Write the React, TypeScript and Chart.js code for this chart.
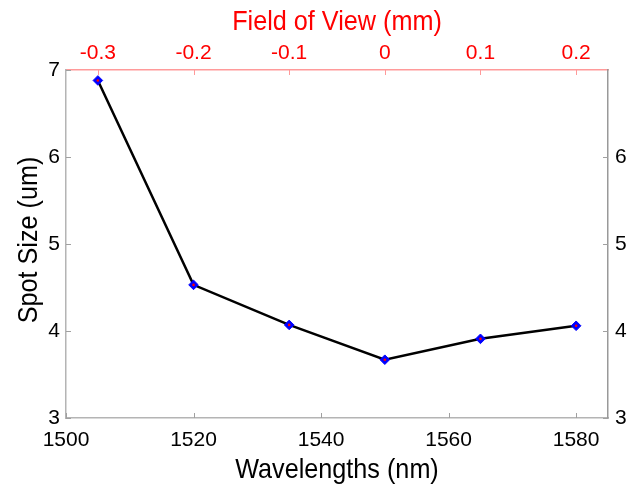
import React, { useEffect, useRef } from "react";
import { Chart, registerables } from "chart.js";

Chart.register(...registerables);

const wavelengths = [1505, 1520, 1535, 1550, 1565, 1580];
const spotSize = [6.88, 4.53, 4.07, 3.67, 3.91, 4.06];
const bottomTicks = [1500, 1520, 1540, 1560, 1580];
const topTicks = [-0.3, -0.2, -0.1, 0, 0.1, 0.2];
const leftTicks = [3, 4, 5, 6, 7];
const rightTicks = [3, 4, 5, 6];
const xMin = 1500;
const xMax = 1585;
const fovCenter = 1550;
const fovScale = 150;
const xTitle = "Wavelengths (nm)";
const x2Title = "Field of View (mm)";
const yTitle = "Spot Size (um)";

const TICK_FONT = { family: "'Liberation Sans', Arial, sans-serif", size: 21 };
const TITLE_FONT_CSS = "28px 'Liberation Sans', Arial, sans-serif";
const TITLE_SQUEEZE = 0.9;

const inwardTicks = {
  id: "inwardTicks",
  afterDatasetsDraw(chart: any) {
    const { ctx, chartArea, scales } = chart;
    const len = 5;
    ctx.save();
    ctx.lineWidth = 1;
    const drawX = (scale: any, color: string, fromTop: boolean) => {
      ctx.strokeStyle = color;
      scale.ticks.forEach((t: any) => {
        const px = Math.round(scale.getPixelForValue(t.value)) + 0.5;
        ctx.beginPath();
        if (fromTop) {
          ctx.moveTo(px, chartArea.top);
          ctx.lineTo(px, chartArea.top + len);
        } else {
          ctx.moveTo(px, chartArea.bottom);
          ctx.lineTo(px, chartArea.bottom - len);
        }
        ctx.stroke();
      });
    };
    const drawY = (scale: any, color: string, fromLeft: boolean) => {
      ctx.strokeStyle = color;
      scale.ticks.forEach((t: any) => {
        const py = Math.round(scale.getPixelForValue(t.value)) + 0.5;
        ctx.beginPath();
        if (fromLeft) {
          ctx.moveTo(chartArea.left, py);
          ctx.lineTo(chartArea.left + len, py);
        } else {
          ctx.moveTo(chartArea.right, py);
          ctx.lineTo(chartArea.right - len, py);
        }
        ctx.stroke();
      });
    };
    drawX(scales.x, "#a0a0a0", false);
    drawX(scales.x2, "#ff9a9a", true);
    drawY(scales.y, "#a0a0a0", true);
    drawY(scales.y2, "#a0a0a0", false);
    ctx.restore();
  },
};

const squeezedTitles = {
  id: "squeezedTitles",
  afterDraw(chart: any) {
    const { ctx, chartArea } = chart;
    const cx = (chartArea.left + chartArea.right) / 2;
    const cy = (chartArea.top + chartArea.bottom) / 2;
    ctx.save();
    ctx.font = TITLE_FONT_CSS;
    ctx.textAlign = "center";
    ctx.textBaseline = "alphabetic";
    ctx.save();
    ctx.translate(cx, chart.height - 11);
    ctx.scale(TITLE_SQUEEZE, 1);
    ctx.fillStyle = "#000000";
    ctx.fillText(xTitle, 0, 0);
    ctx.restore();
    ctx.save();
    ctx.translate(cx, 30);
    ctx.scale(TITLE_SQUEEZE, 1);
    ctx.fillStyle = "#ff0000";
    ctx.fillText(x2Title, 0, 0);
    ctx.restore();
    ctx.save();
    ctx.translate(37, cy - 4);
    ctx.rotate(-Math.PI / 2);
    ctx.scale(TITLE_SQUEEZE, 1);
    ctx.fillStyle = "#000000";
    ctx.fillText(yTitle, 0, 0);
    ctx.restore();
    ctx.restore();
  },
};

const setTicks = (arr: number[]) => (scale: any) => {
  scale.ticks = arr.map((v) => ({ value: v }));
};

export default function App() {
  const ref = useRef<HTMLCanvasElement | null>(null);
  useEffect(() => {
    if (!ref.current) return;
    const pts = wavelengths.map((w, i) => ({ x: w, y: spotSize[i] }));
    const chart = new Chart(ref.current, {
      type: "line",
      data: {
        datasets: [
          {
            data: pts,
            borderColor: "#000000",
            borderWidth: 2.5,
            pointStyle: "rectRot",
            pointRadius: 4.8,
            pointBackgroundColor: "#0000ff",
            pointBorderColor: "#0000ff",
            pointBorderWidth: 1,
            xAxisID: "x",
            yAxisID: "y",
            order: 2,
          },
          {
            data: pts,
            showLine: false,
            pointStyle: "circle",
            pointRadius: 1.3,
            pointBackgroundColor: "#ff0000",
            pointBorderColor: "#ff0000",
            pointBorderWidth: 0,
            xAxisID: "x",
            yAxisID: "y",
            order: 1,
          },
        ],
      },
      options: {
        animation: false,
        responsive: false,
        layout: { padding: 0 },
        plugins: { legend: { display: false }, tooltip: { enabled: false } },
        scales: {
          x: {
            type: "linear",
            position: "bottom",
            min: xMin,
            max: xMax,
            afterBuildTicks: setTicks(bottomTicks),
            afterFit: (s: any) => { s.height = 71; },
            grid: { display: true, drawOnChartArea: false, drawTicks: false },
            border: { display: true, color: "#b4b4b4", width: 1.5 },
            ticks: {
              color: "#000",
              font: TICK_FONT,
              padding: 10,
              maxRotation: 0,
              autoSkip: false,
              callback: (v: any) => String(v),
            },
          },
          x2: {
            type: "linear",
            position: "top",
            min: (xMin - fovCenter) / fovScale,
            max: (xMax - fovCenter) / fovScale,
            afterBuildTicks: setTicks(topTicks),
            afterFit: (s: any) => { s.height = 70; },
            grid: { display: true, drawOnChartArea: false, drawTicks: false },
            border: { display: true, color: "#ff9a9a", width: 1.5 },
            ticks: {
              color: "#ff0000",
              font: TICK_FONT,
              padding: 4,
              maxRotation: 0,
              autoSkip: false,
              callback: (v: any) => String(Math.round(Number(v) * 10) / 10),
            },
          },
          y: {
            type: "linear",
            position: "left",
            min: 3,
            max: 7,
            afterBuildTicks: setTicks(leftTicks),
            afterFit: (s: any) => { s.width = 66; },
            grid: { display: true, drawOnChartArea: false, drawTicks: false },
            border: { display: true, color: "#b4b4b4", width: 1.5 },
            ticks: { color: "#000", font: TICK_FONT, padding: 6 },
          },
          y2: {
            type: "linear",
            position: "right",
            min: 3,
            max: 7,
            afterBuildTicks: setTicks(rightTicks),
            afterFit: (s: any) => { s.width = 30; },
            grid: { display: true, drawOnChartArea: false, drawTicks: false },
            border: { display: true, color: "#999999", width: 1.5 },
            ticks: { color: "#000", font: TICK_FONT, padding: 7 },
          },
        },
      },
      plugins: [inwardTicks, squeezedTitles],
    } as any);
    return () => chart.destroy();
  }, []);
  return (
    <div style={{ position: "fixed", left: 0, top: 0, width: 638, height: 489, background: "#fff" }}>
      <canvas ref={ref} width={638} height={489} />
    </div>
  );
}
